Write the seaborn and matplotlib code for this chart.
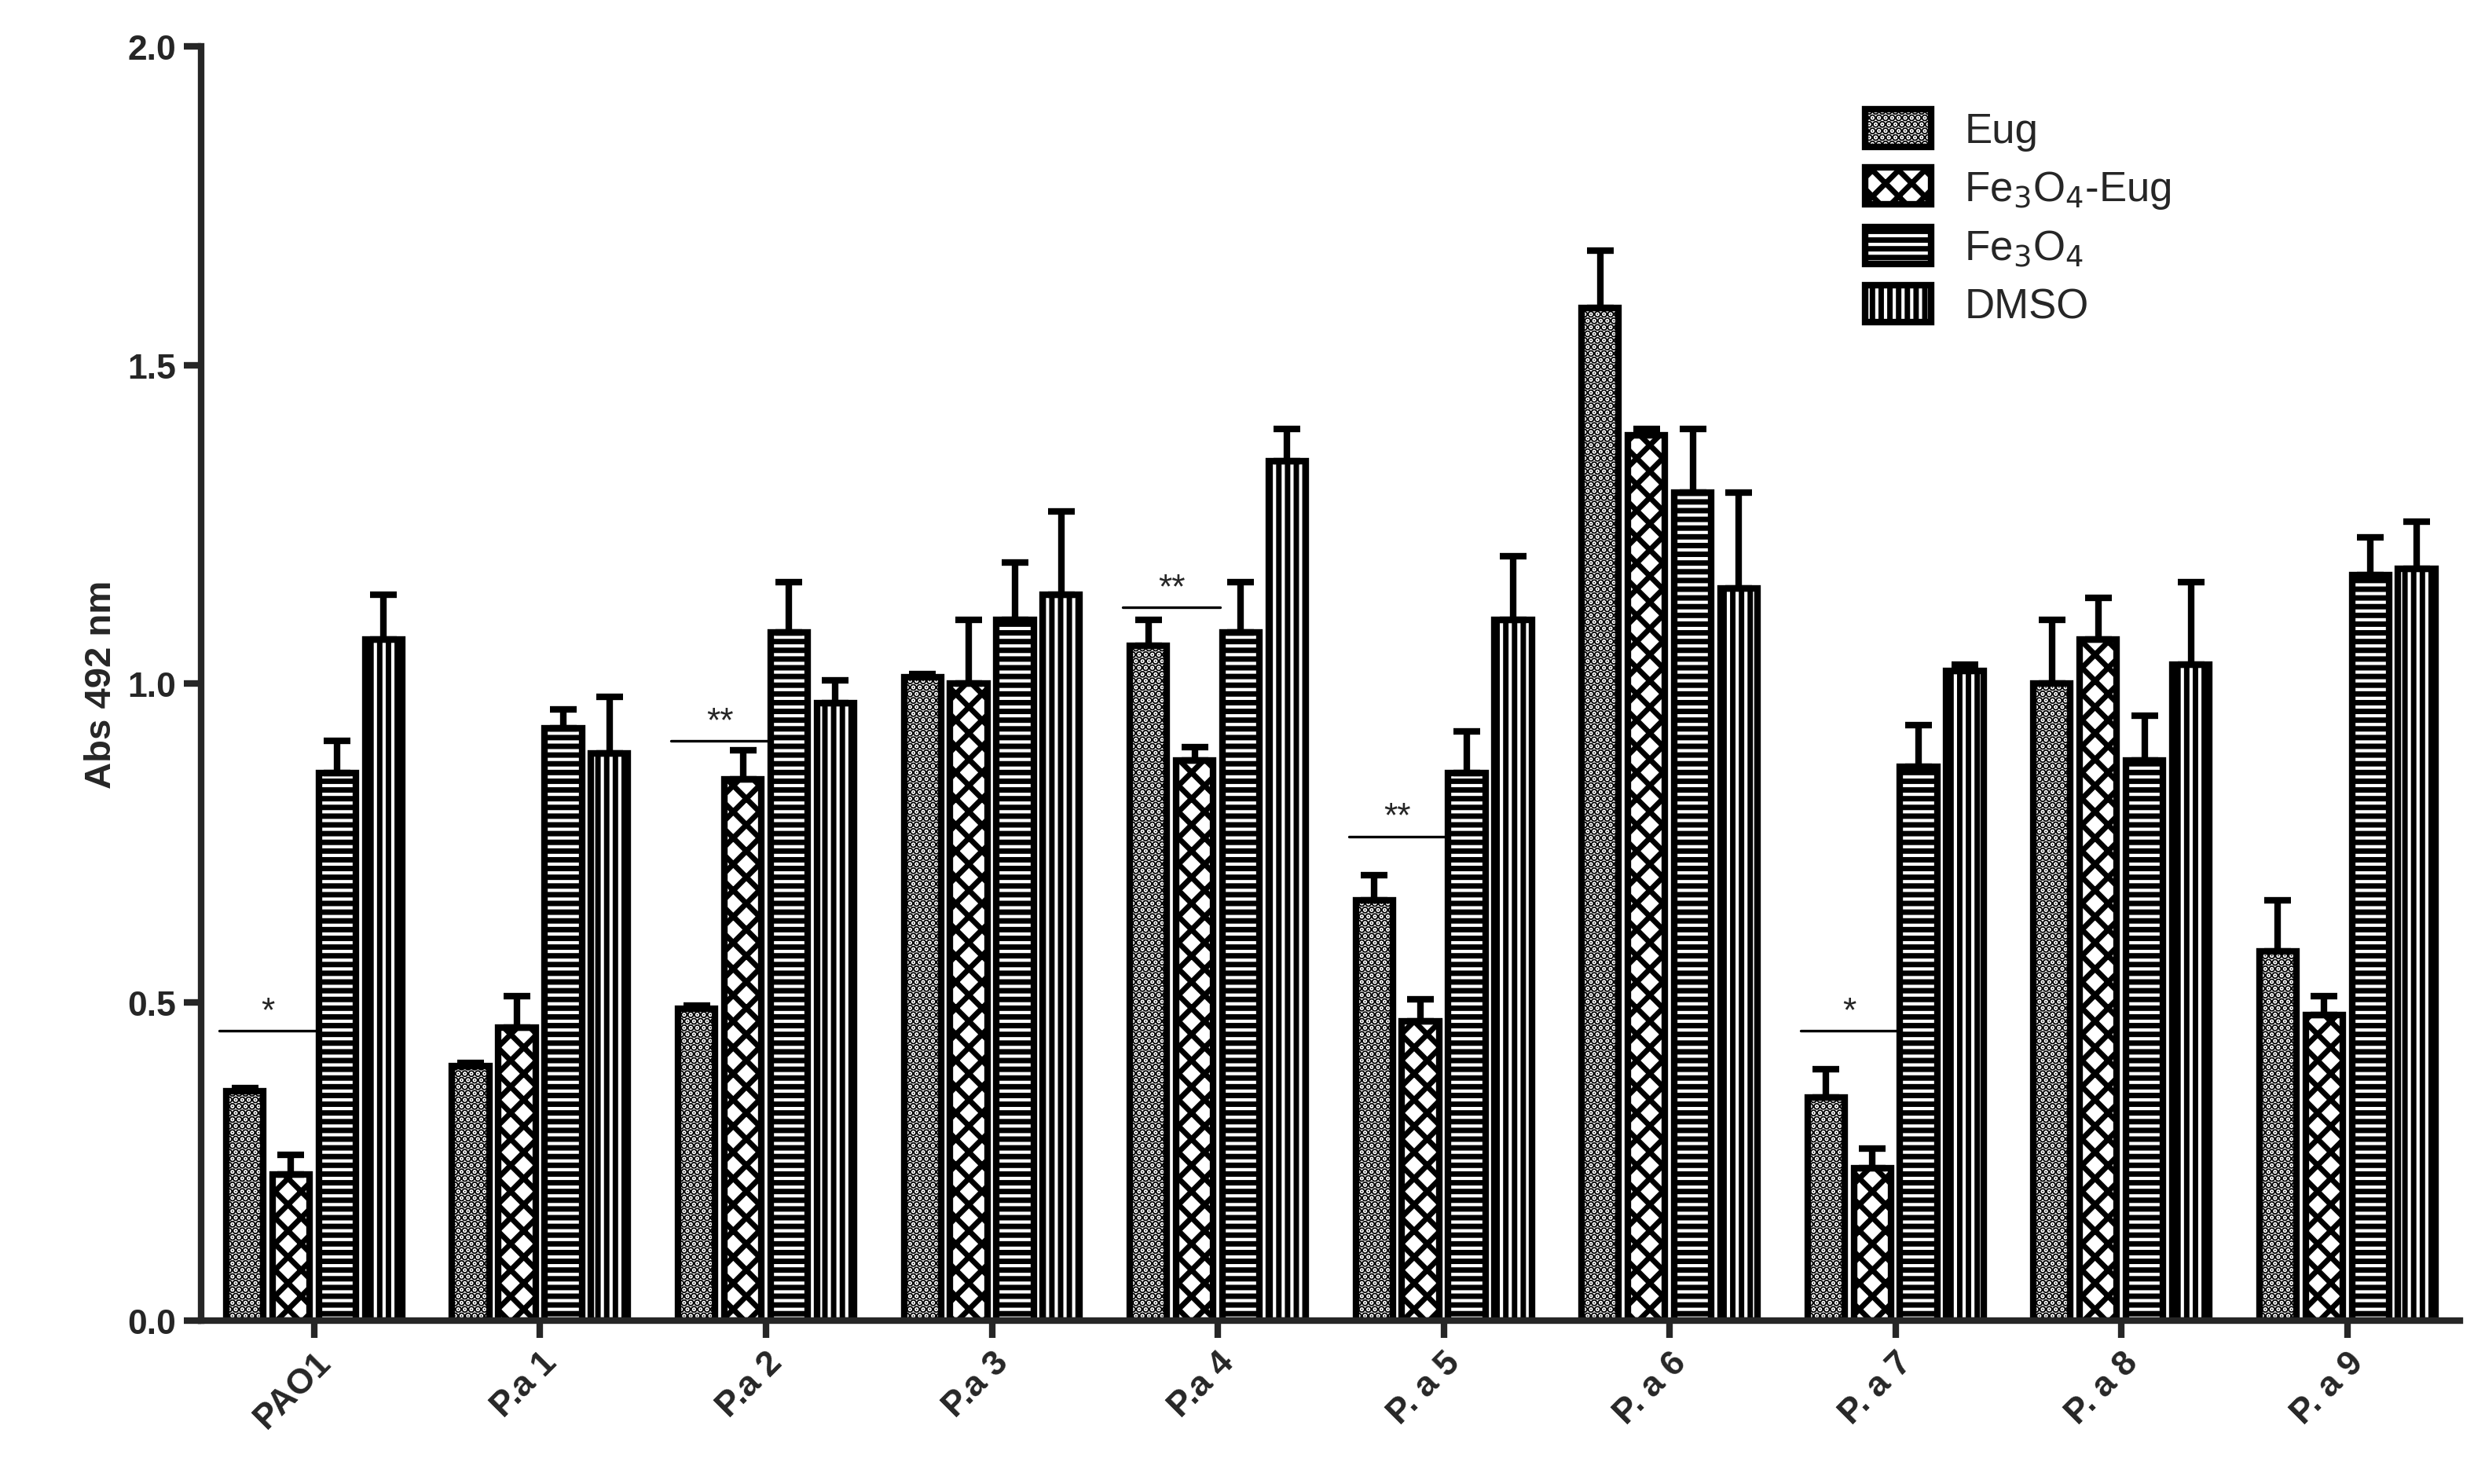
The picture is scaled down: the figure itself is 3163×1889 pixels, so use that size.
import numpy as np
import pandas as pd
import seaborn as sns
import matplotlib.pyplot as plt

sns.set_style("ticks")
plt.rcParams['font.family'] = ['Arial', 'Liberation Sans', 'DejaVu Sans']
plt.rcParams['hatch.linewidth'] = 2.5

strains = ["PAO1", "P.a 1", "P.a 2", "P.a 3", "P.a 4", "P. a 5", "P. a 6", "P. a 7", "P. a 8", "P. a 9"]
groups = ["Eug", "Fe$_3$O$_4$-Eug", "Fe$_3$O$_4$", "DMSO"]
eug = [0.36, 0.40, 0.49, 1.01, 1.06, 0.66, 1.59, 0.35, 1.00, 0.58]
fe_eug = [0.23, 0.46, 0.85, 1.00, 0.88, 0.47, 1.39, 0.24, 1.07, 0.48]
fe = [0.86, 0.93, 1.08, 1.10, 1.08, 0.86, 1.30, 0.87, 0.88, 1.17]
dmso = [1.07, 0.89, 0.97, 1.14, 1.35, 1.10, 1.15, 1.02, 1.03, 1.18]
eug_err = [0.005, 0.005, 0.005, 0.005, 0.04, 0.04, 0.09, 0.045, 0.10, 0.08]
fe_eug_err = [0.03, 0.05, 0.045, 0.10, 0.02, 0.035, 0.01, 0.03, 0.065, 0.03]
fe_err = [0.05, 0.03, 0.08, 0.09, 0.08, 0.065, 0.10, 0.065, 0.07, 0.06]
dmso_err = [0.07, 0.09, 0.035, 0.13, 0.05, 0.10, 0.15, 0.01, 0.13, 0.075]
sig_idx = [0, 2, 4, 5, 7]
sig_y = [0.455, 0.91, 1.12, 0.76, 0.455]
sig_txt = ["*", "**", "**", "**", "*"]

vals = [eug, fe_eug, fe, dmso]
errs = [eug_err, fe_eug_err, fe_err, dmso_err]
rows = []
for g, v, e in zip(groups, vals, errs):
    for s, vv, ee in zip(strains, v, e):
        rows.append(dict(strain=s, group=g, value=vv, err=ee))
df = pd.DataFrame(rows)

fig = plt.figure(figsize=(15.815, 9.45), dpi=200)
ax = fig.add_axes([0.081, 0.11, 0.909, 0.858])
sns.barplot(data=df, x="strain", y="value", hue="group", hue_order=groups,
            order=strains, palette=["white"] * 4, edgecolor="black",
            linewidth=3, errorbar=None, width=0.82, gap=0.2, ax=ax)
hatches = ["....", "xx", "---", "|||"]
bar_conts = list(ax.containers[:4])
for ci, cont in enumerate(bar_conts):
    for j, p in enumerate(cont.patches):
        p.set_hatch(hatches[ci])
        x = p.get_x() + p.get_width() / 2
        ax.errorbar(x, p.get_height(), yerr=[[0], [errs[ci][j]]], fmt="none",
                    ecolor="black", elinewidth=3, capsize=6, capthick=3, zorder=1)
for k, i in enumerate(sig_idx):
    b0 = bar_conts[0].patches[i]
    b1 = bar_conts[1].patches[i]
    x0 = b0.get_x() - 0.03
    x1 = b1.get_x() + b1.get_width() + 0.03
    ax.plot([x0, x1], [sig_y[k], sig_y[k]], color="black", lw=1.2)
    ax.text((x0 + x1) / 2, sig_y[k] + 0.005, sig_txt[k], ha="center", va="bottom",
            fontsize=16)

ax.set_ylim(0, 2.0)
ax.set_xlim(-0.5, 9.5)
ax.set_yticks([0, 0.5, 1.0, 1.5, 2.0])
ax.set_yticklabels(["0.0", "0.5", "1.0", "1.5", "2.0"], fontsize=16, fontweight="bold")
ax.set_xticks(range(len(strains)))
ax.set_xticklabels(strains, rotation=45, ha="right", rotation_mode="anchor",
                   fontsize=16, fontweight="bold")
ax.set_xlabel("")
ax.set_ylabel("Abs 492 nm", fontsize=17, fontweight="bold")
ax.tick_params(width=3, length=8)
for s in ["left", "bottom"]:
    ax.spines[s].set_linewidth(3)
sns.despine(ax=ax)
leg = ax.legend(loc="upper left", bbox_to_anchor=(0.72, 0.98), frameon=False,
                fontsize=19, handlelength=1.6, handleheight=1.0, labelspacing=0.4)
for h, hh in zip(leg.legend_handles, hatches):
    h.set_hatch(hh)
    h.set_edgecolor("black")
    h.set_linewidth(3)
fig.savefig("out.png", dpi=200)
